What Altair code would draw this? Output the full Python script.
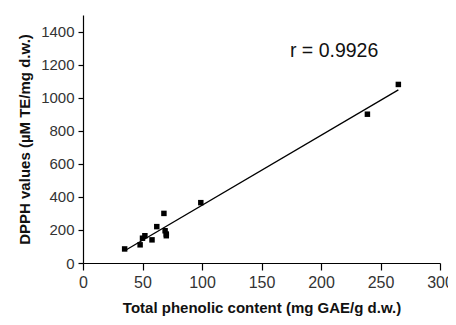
import altair as alt
import pandas as pd

tpc = [35, 48, 50, 52, 58, 62, 68, 69, 70, 70, 99, 239, 265]
dpph = [85, 110, 150, 165, 140, 220, 300, 195, 175, 165, 365, 900, 1080]
r_label = "r = 0.9926"

df = pd.DataFrame({"x": tpc, "y": dpph})
lab = pd.DataFrame({"x": [211], "y": [1280], "t": [r_label]})

xs = alt.Scale(domain=[0, 300], nice=False, zero=True)
ys = alt.Scale(domain=[0, 1500], nice=False, zero=True)

common = dict(grid=False, labelColor="#333", titleFontWeight="bold", titleColor="#111",
              domainColor="#000", tickColor="#000", labelFont="Liberation Sans",
              titleFont="Liberation Sans", labelFlush=False, labelOverlap=False, format="d")
xax = alt.Axis(values=[0, 50, 100, 150, 200, 250, 300], title="Total phenolic content (mg GAE/g d.w.)",
               tickSize=7, labelPadding=4, titlePadding=10, labelFontSize=16, titleFontSize=15, **common)
yax = alt.Axis(values=[0, 200, 400, 600, 800, 1000, 1200, 1400], title="DPPH values (µM TE/mg d.w.)",
               tickSize=5, labelPadding=4, titlePadding=8, labelFontSize=15, titleFontSize=15, **common)

X = alt.X("x:Q", scale=xs, axis=xax)
Y = alt.Y("y:Q", scale=ys, axis=yax)

pts = alt.Chart(df).mark_square(size=30, color="#000", opacity=1).encode(x=X, y=Y)
line = alt.Chart(df).transform_regression("x", "y").mark_line(color="#000", strokeWidth=1.3).encode(x=X, y=Y)
txt = alt.Chart(lab).mark_text(fontSize=19.5, font="Liberation Sans", color="#111", align="center", baseline="middle").encode(
    x=X, y=Y, text="t:N")

chart = (line + pts + txt).properties(
    width=357, height=248,
    autosize=alt.AutoSizeParams(type="none"),
    padding={"left": 75, "top": 7, "right": 8, "bottom": 54},
).configure_view(stroke=None).configure_axis(domainWidth=1.2, tickWidth=1.2)

chart.save("out.html", embed_options={"renderer": "svg", "actions": False})
